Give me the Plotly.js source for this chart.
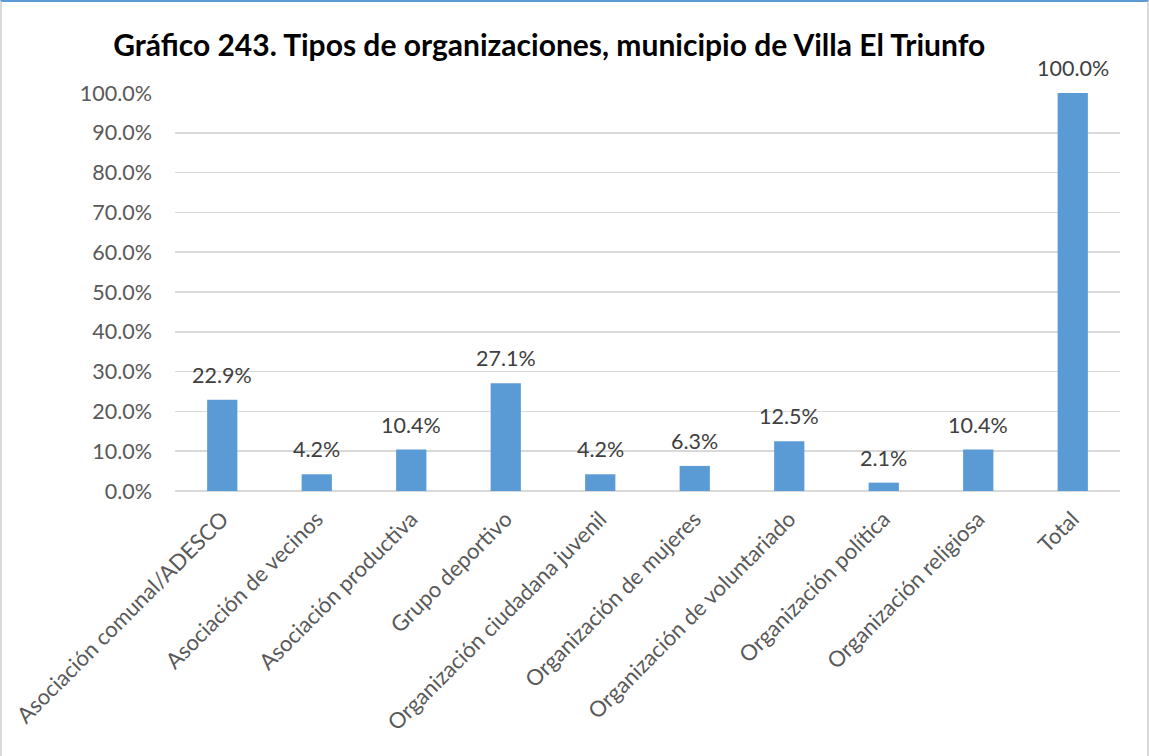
<!DOCTYPE html>
<html><head><meta charset="utf-8">
<script src="https://cdn.plot.ly/plotly-3.0.1.min.js"></script>
<style>
html,body{margin:0;padding:0;background:#fff;}
#frame{position:absolute;left:0;top:0;width:1149px;height:756px;box-sizing:border-box;border-top:2px solid #5b9bd5;border-left:2px solid #d9d9d9;border-right:2px solid #d9d9d9;}
#chart{position:absolute;left:0;top:0;width:1149px;height:756px;}
</style></head>
<body>
<div id="chart"></div>
<div id="frame"></div>
<script>
const categories = ["Asociación comunal/ADESCO","Asociación de vecinos","Asociación productiva","Grupo deportivo","Organización ciudadana juvenil","Organización de mujeres","Organización de voluntariado","Organización política","Organización religiosa","Total"];
const values = [0.229,0.042,0.104,0.271,0.042,0.063,0.125,0.021,0.104,1.0];
const titleText = "Gráfico 243. Tipos de organizaciones, municipio de Villa El Triunfo";

const font = "Lato, 'Liberation Sans', sans-serif";
const labels = categories.map((c,i) => ({
  x:c, y:values[i], xref:'x', yref:'y', text:(values[i]*100).toFixed(1)+'%',
  showarrow:false, yanchor:'middle', yshift:25,
  font:{family:font,size:21.5,color:'#404040'}
}));
Plotly.newPlot('chart', [{
  type:'bar', x:categories, y:values,
  marker:{color:'#5b9bd5'},
  hoverinfo:'none', cliponaxis:false
}], {
  width:1149, height:756,
  margin:{l:175,r:29,t:93,b:265},
  paper_bgcolor:'#fff', plot_bgcolor:'#fff',
  bargap:0.68,
  annotations:labels,
  title:{text:'<b>'+titleText+'</b>', x:0.478, xanchor:'center', y:0.94, yanchor:'middle',
         font:{family:font,size:30,color:'#000'}},
  xaxis:{tickangle:-45, tickfont:{family:font,size:22,color:'#595959'}, showline:false, ticks:'', ticklabelstandoff:10, fixedrange:true},
  yaxis:{range:[0,1], dtick:0.1, tickformat:'.1%', gridcolor:'#d9d9d9', gridwidth:1.5,
         zeroline:true, zerolinecolor:'#d9d9d9', zerolinewidth:1.5,
         tickfont:{family:font,size:21.5,color:'#595959'}, ticklabelstandoff:22, fixedrange:true},
  showlegend:false
}, {displayModeBar:false, staticPlot:true});
</script>
</body></html>
